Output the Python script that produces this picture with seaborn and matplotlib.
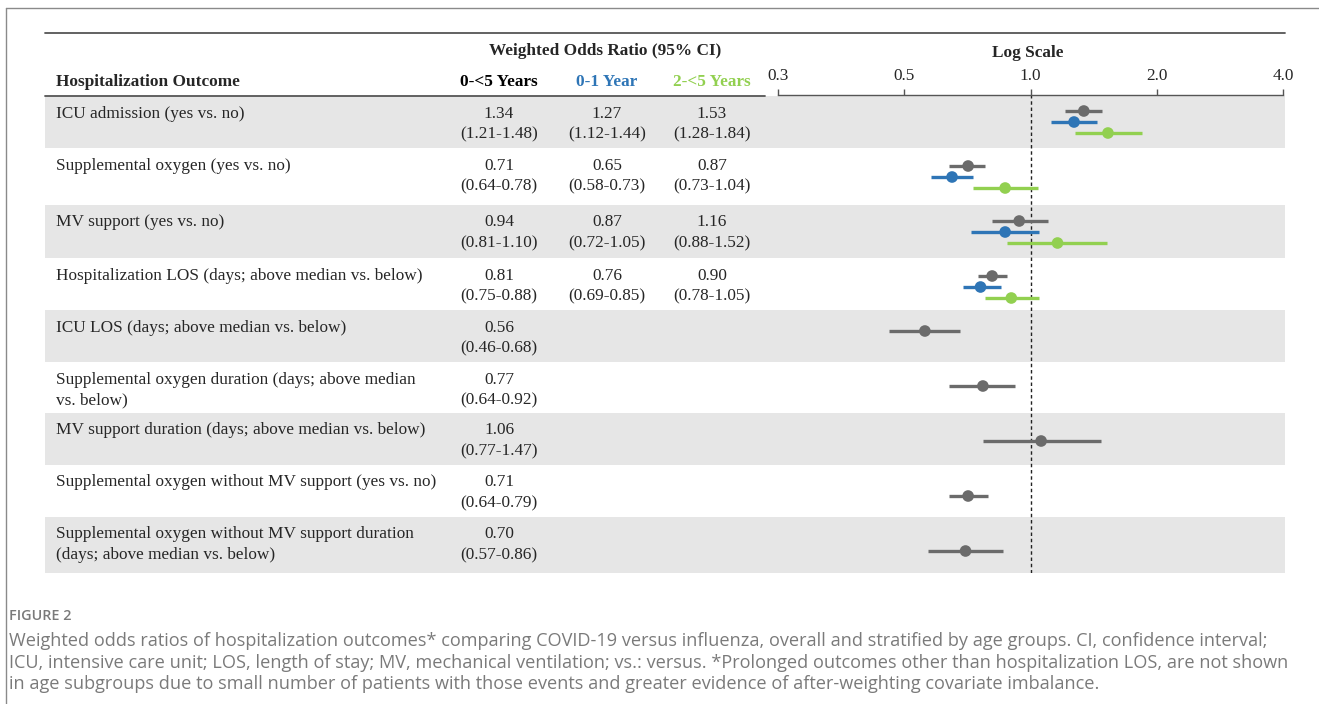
import pandas as pd
import seaborn as sns
import matplotlib.pyplot as plt

outcomes = [
    "ICU admission (yes vs. no)",
    "Supplemental oxygen (yes vs. no)",
    "MV support (yes vs. no)",
    "Hospitalization LOS (days; above median vs. below)",
    "ICU LOS (days; above median vs. below)",
    "Supplemental oxygen duration (days; above median\nvs. below)",
    "MV support duration (days; above median vs. below)",
    "Supplemental oxygen without MV support (yes vs. no)",
    "Supplemental oxygen without MV support duration\n(days; above median vs. below)",
]
# 0-<5 years (all outcomes)
or_all = [1.34, 0.71, 0.94, 0.81, 0.56, 0.77, 1.06, 0.71, 0.70]
lo_all = [1.21, 0.64, 0.81, 0.75, 0.46, 0.64, 0.77, 0.64, 0.57]
hi_all = [1.48, 0.78, 1.10, 0.88, 0.68, 0.92, 1.47, 0.79, 0.86]
# 0-1 year (first four outcomes only)
or_01 = [1.27, 0.65, 0.87, 0.76]
lo_01 = [1.12, 0.58, 0.72, 0.69]
hi_01 = [1.44, 0.73, 1.05, 0.85]
# 2-<5 years (first four outcomes only)
or_25 = [1.53, 0.87, 1.16, 0.90]
lo_25 = [1.28, 0.73, 0.88, 0.78]
hi_25 = [1.84, 1.04, 1.52, 1.05]

groups = ["0-<5 Years", "0-1 Year", "2-<5 Years"]
colors = {"0-<5 Years": "#6b6b6b", "0-1 Year": "#2e75b6", "2-<5 Years": "#92d050"}
offsets = {"0-<5 Years": -0.2, "0-1 Year": 0.0, "2-<5 Years": 0.2}
ticks = [0.25, 0.5, 1.0, 2.0, 4.0]
tick_labels = ["0.3", "0.5", "1.0", "2.0", "4.0"]

caption = [
    "Weighted odds ratios of hospitalization outcomes* comparing COVID-19 versus influenza, overall and stratified by age groups. CI, confidence interval;",
    "ICU, intensive care unit; LOS, length of stay; MV, mechanical ventilation; vs.: versus. *Prolonged outcomes other than hospitalization LOS, are not shown",
    "in age subgroups due to small number of patients with those events and greater evidence of after-weighting covariate imbalance.",
]

series = [(or_all, lo_all, hi_all), (or_01, lo_01, hi_01), (or_25, lo_25, hi_25)]
rows = []
for g, (o, l, h) in zip(groups, series):
    for i in range(len(o)):
        rows.append({"row": i, "group": g, "or": o[i], "lo": l[i], "hi": h[i], "y": i + offsets[g]})
df = pd.DataFrame(rows)

sns.set_style("white")
plt.rcParams["font.family"] = ["Liberation Serif", "DejaVu Serif"]

W, H = 1319, 704
fig = plt.figure(figsize=(W / 100, H / 100), dpi=100)

# background / table layer in pixel coordinates
bg = fig.add_axes([0, 0, 1, 1])
bg.set_xlim(0, W)
bg.set_ylim(H, 0)
bg.axis("off")

bounds = [96, 148, 205, 258, 310, 362, 413, 465, 517, 573]
for i in range(len(outcomes)):
    if i % 2 == 0:
        bg.fill_between([45, 1285], bounds[i], bounds[i + 1], color="#e6e6e6", lw=0)

# outer frame
bg.plot([6, W], [8, 8], color="#8a8a8a", lw=1)
bg.plot([6, 6], [8, H], color="#8a8a8a", lw=1)
# table rules
bg.plot([45, 1285], [33, 33], color="#555555", lw=1.3)
bg.plot([45, 765], [96, 96], color="#555555", lw=1.3)

fs = 12.4
bg.text(56, 82, "Hospitalization Outcome", fontsize=fs, fontweight="bold", va="center")
bg.text(605, 51, "Weighted Odds Ratio (95% CI)", fontsize=fs, fontweight="bold", ha="center", va="center")
bg.text(1028, 53, "Log Scale", fontsize=fs, fontweight="bold", ha="center", va="center")
col_x = [499, 607, 712]
for g, cx in zip(groups, col_x):
    c = "black" if g == "0-<5 Years" else colors[g]
    bg.text(cx, 82, g, fontsize=fs, fontweight="bold", ha="center", va="center", color=c)

for i, lab in enumerate(outcomes):
    top = bounds[i]
    for k, line in enumerate(lab.split("\n")):
        bg.text(56, top + 17.5 + 20.5 * k, line, fontsize=fs, va="center")
    for cx, (o, l, h) in zip(col_x, series):
        if i < len(o):
            bg.text(cx, top + 17.5, f"{o[i]:.2f}", fontsize=fs, ha="center", va="center")
            bg.text(cx, top + 38, f"({l[i]:.2f}-{h[i]:.2f})", fontsize=fs, ha="center", va="center")

# caption
sans = ["Open Sans", "DejaVu Sans"]
bg.text(9, 616, "FIGURE 2", fontsize=10.4, fontweight="semibold", color="#7a7a7a", family=sans, va="center")
for k, line in enumerate(caption):
    bg.text(9, 641 + 21.5 * k, line, fontsize=13.1, color="#7a7a7a", family=sans, va="center")

# forest plot layer
ax = fig.add_axes([778 / W, (H - 573) / H, 505 / W, 478 / H])
ax.patch.set_alpha(0)
ax.set_xscale("log", base=2)
ax.set_xlim(0.25, 4)
ax.set_ylim(478 / 55 - 0.491, -0.491)

ax.axvline(1.0, color="#222222", lw=1, ls=(0, (2.5, 2)), zorder=1)
for g in groups:
    sub = df[df["group"] == g]
    ax.hlines(sub["y"], sub["lo"], sub["hi"], color=colors[g], lw=2.4, zorder=2)
sns.scatterplot(data=df, x="or", y="y", hue="group", palette=colors, s=70,
                edgecolor="none", legend=False, zorder=3, ax=ax)

for s in ["left", "right", "bottom"]:
    ax.spines[s].set_visible(False)
ax.spines["top"].set_color("#555555")
ax.spines["top"].set_linewidth(1)
ax.xaxis.set_ticks_position("top")
ax.set_xticks(ticks)
ax.set_xticklabels(tick_labels)
ax.minorticks_off()
ax.tick_params(axis="x", direction="out", length=4, width=1, color="#555555", labelsize=fs, pad=4)
ax.set_yticks([])
ax.set_xlabel("")
ax.set_ylabel("")

fig.savefig("out.png", dpi=100)
